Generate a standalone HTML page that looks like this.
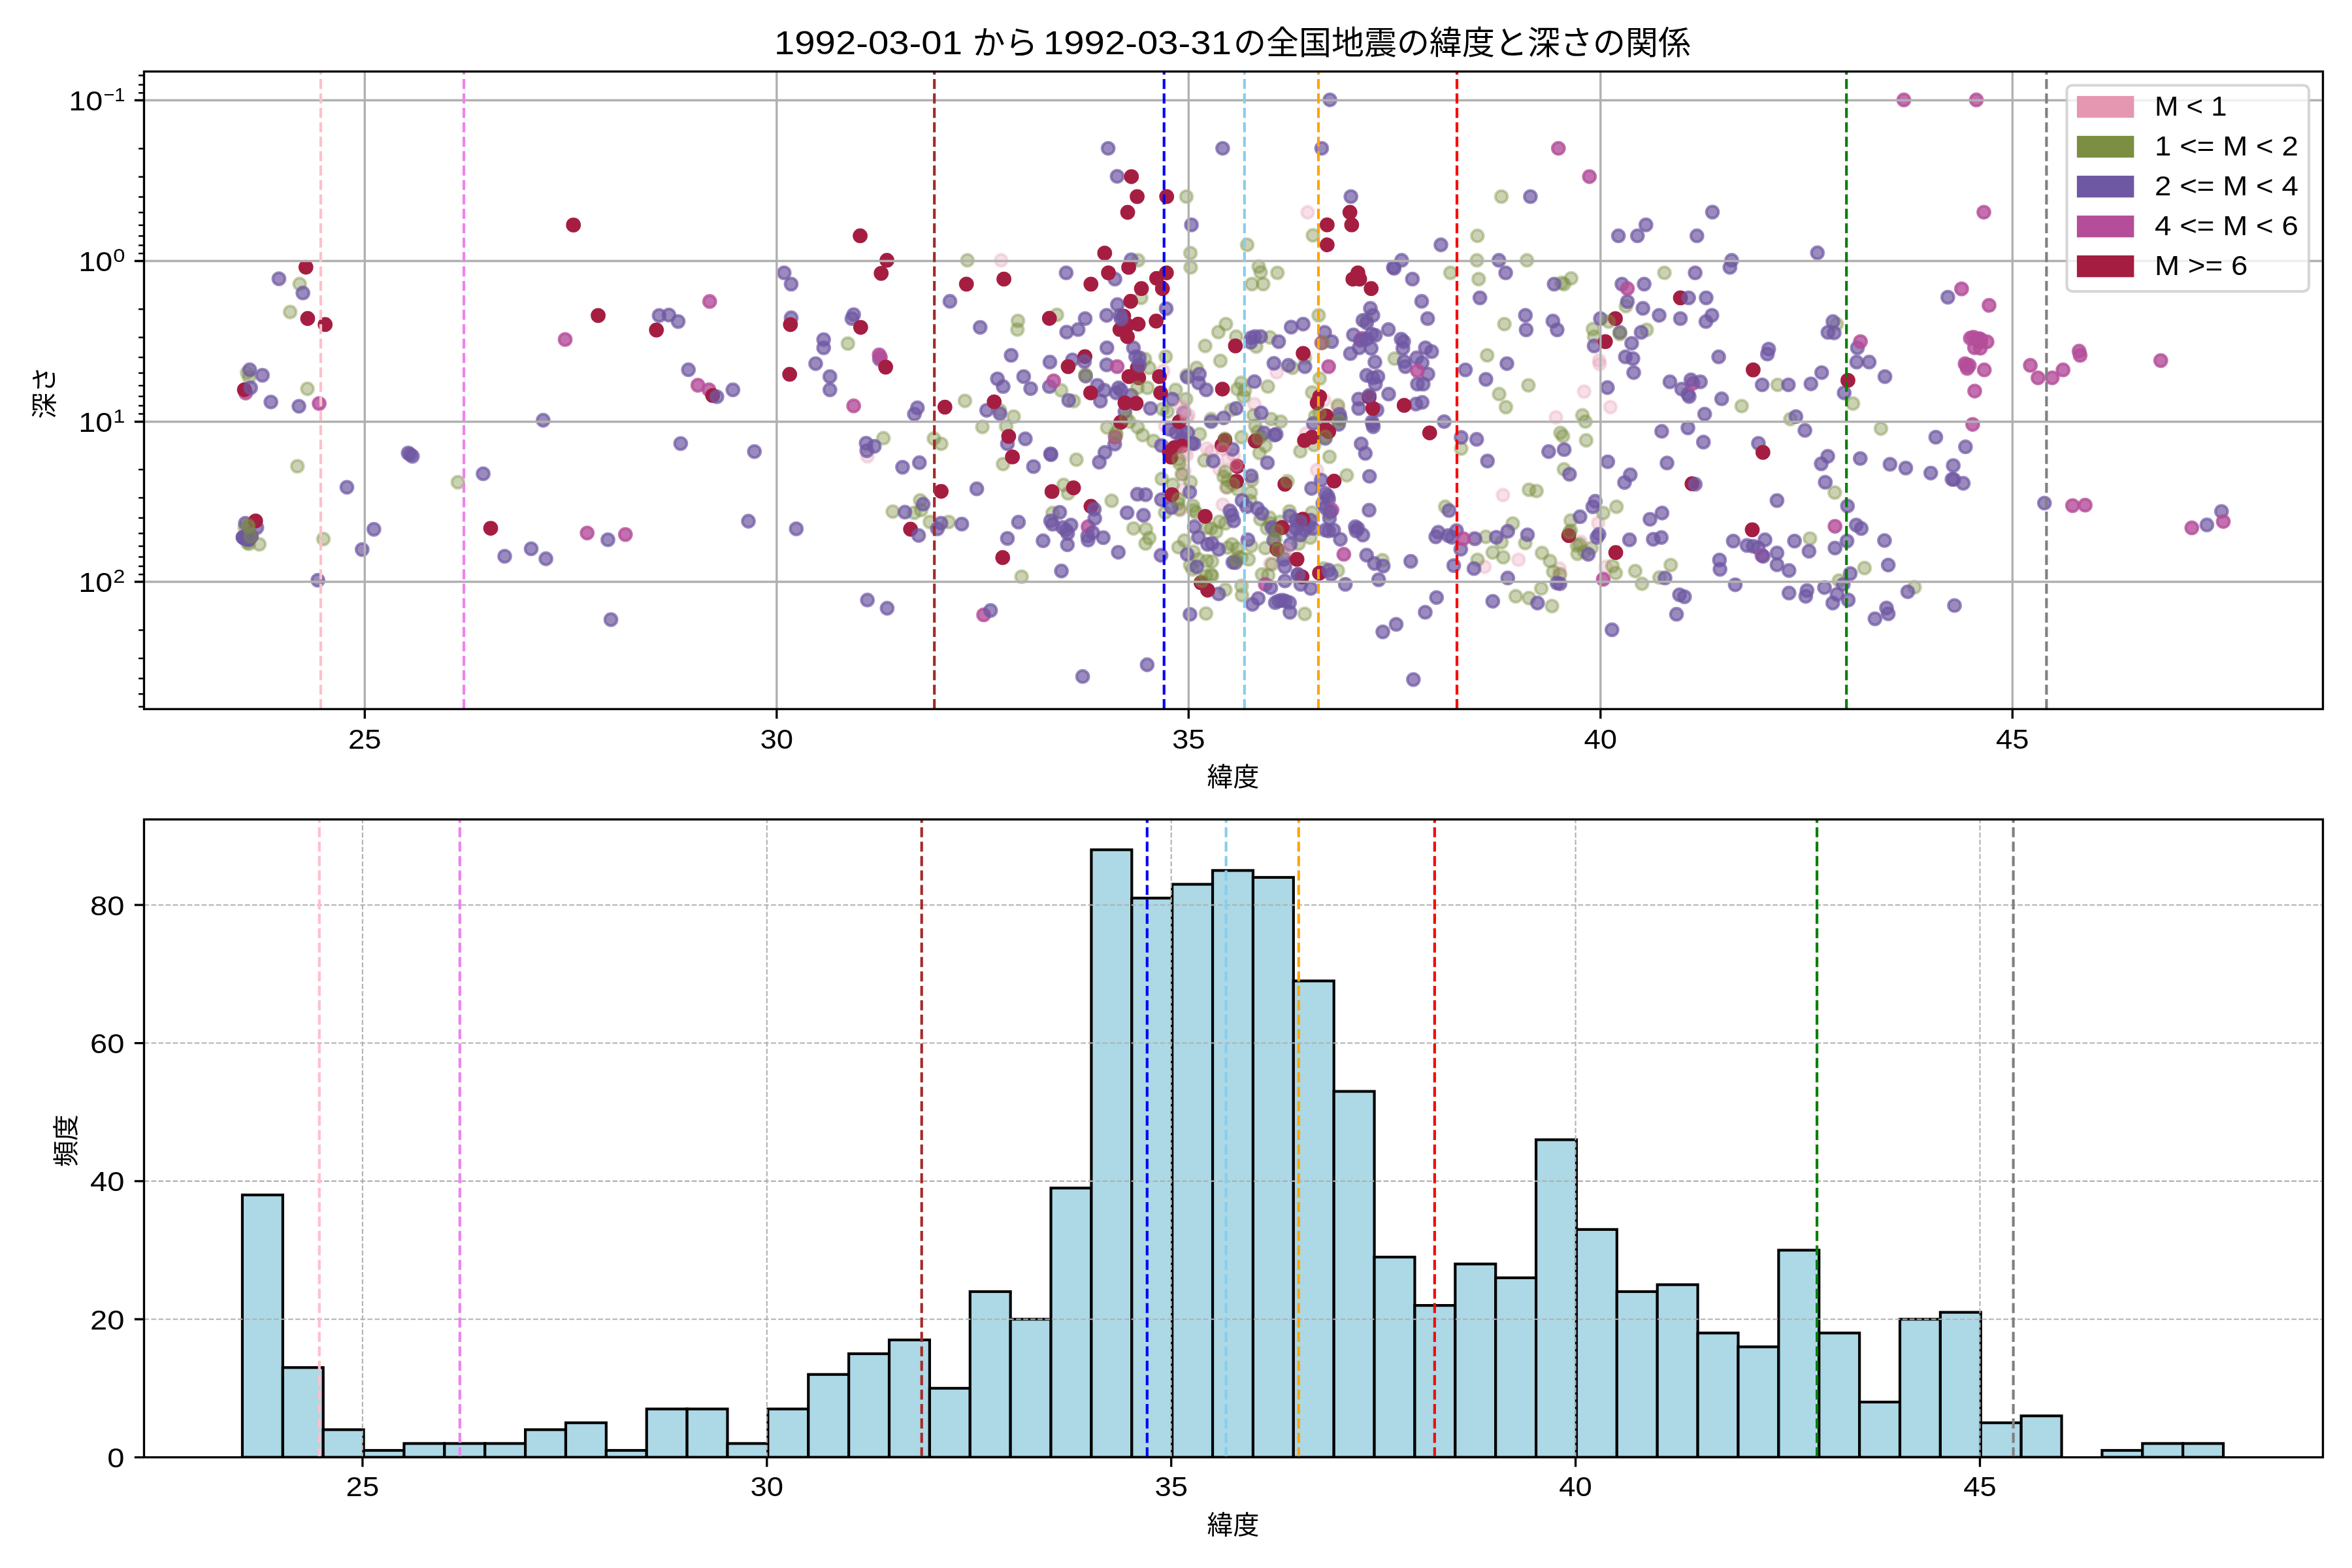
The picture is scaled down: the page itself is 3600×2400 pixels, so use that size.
<!DOCTYPE html>
<html lang="ja"><head><meta charset="utf-8"><title>緯度と深さの関係</title>
<style>html,body{margin:0;padding:0;background:#fff}svg{display:block;will-change:transform}text{font-family:"Liberation Sans", "Noto Sans CJK JP", sans-serif;fill:#000}.t{font-size:41.67px}.s{font-size:29.17px}.j{font-size:40px}.g{stroke:#b0b0b0;stroke-width:3.33;fill:none}.h{stroke:#b0b0b0;stroke-width:2.08;stroke-dasharray:7.7 3.33;fill:none}.v{stroke-width:4.17;stroke-dasharray:15.4 6.67;fill:none}.k{stroke:#000;stroke-width:3.33;fill:none}.m{stroke:#000;stroke-width:2.5;fill:none}.bar{fill:#add8e6;stroke:#000;stroke-width:4.17;stroke-linejoin:miter}circle{stroke-width:4.17}
.a circle{fill:#e597b2;stroke:#e597b2;fill-opacity:0.3;stroke-opacity:0.3}
.b circle{fill:#7b8e42;stroke:#7b8e42;fill-opacity:0.4;stroke-opacity:0.4}
.c circle{fill:#6f58a3;stroke:#6f58a3;fill-opacity:0.7;stroke-opacity:0.7}
.d circle{fill:#b44e9a;stroke:#b44e9a;fill-opacity:0.8;stroke-opacity:0.8}
.e circle{fill:#a51e42;stroke:#a51e42;fill-opacity:1.0;stroke-opacity:1.0}
</style></head><body>
<svg width="3600" height="2400" viewBox="0 0 3600 2400">
<rect width="3600" height="2400" fill="#fff"/>
<clipPath id="ct"><rect x="220.45" y="109.44" width="3335.05" height="975.92"/></clipPath>
<g clip-path="url(#ct)">
<g class="a"><circle cx="381.02" cy="804.41" r="9.3"/><circle cx="382.3" cy="806.96" r="9.3"/><circle cx="2001.54" cy="325" r="9.3"/><circle cx="1532.4" cy="398.47" r="9.3"/><circle cx="1780.37" cy="567.61" r="9.3"/><circle cx="1954.09" cy="569.9" r="9.3"/><circle cx="1920.04" cy="618.5" r="9.3"/><circle cx="1327.68" cy="698.44" r="9.3"/></g>
<g class="a"><circle cx="1812.76" cy="720.77" r="9.3"/><circle cx="1810.2" cy="725.87" r="9.3"/><circle cx="1811.48" cy="748.83" r="9.3"/><circle cx="1806.38" cy="780.71" r="9.3"/><circle cx="1783.42" cy="651.89" r="9.3"/><circle cx="1847.19" cy="686.33" r="9.3"/><circle cx="1888.27" cy="696.53" r="9.3"/><circle cx="1853.83" cy="691.43" r="9.3"/></g>
<g class="a"><circle cx="1866.58" cy="718.21" r="9.3"/><circle cx="1879.34" cy="701.63" r="9.3"/><circle cx="1876.79" cy="746.28" r="9.3"/><circle cx="1871.68" cy="772.42" r="9.3"/><circle cx="1999.23" cy="663.37" r="9.3"/><circle cx="2015.82" cy="719.49" r="9.3"/><circle cx="1944.39" cy="862.5" r="9.3"/><circle cx="2447.71" cy="551.54" r="9.3"/></g>
<g class="a"><circle cx="2448.48" cy="557.28" r="9.3"/><circle cx="2424.75" cy="599.37" r="9.3"/><circle cx="2026.79" cy="612.76" r="9.3"/><circle cx="2047.83" cy="623.48" r="9.3"/><circle cx="2464.93" cy="623.09" r="9.3"/><circle cx="2381.51" cy="638.78" r="9.3"/><circle cx="2300.51" cy="757.68" r="9.3"/><circle cx="2446.31" cy="800.54" r="9.3"/></g>
<g class="a"><circle cx="2254.98" cy="823.5" r="9.3"/><circle cx="2419.52" cy="829.24" r="9.3"/><circle cx="2324.24" cy="856.79" r="9.3"/><circle cx="2272.2" cy="867.5" r="9.3"/><circle cx="2386.99" cy="870.18" r="9.3"/><circle cx="2386.99" cy="880.13" r="9.3"/><circle cx="2457.79" cy="867.5" r="9.3"/></g>
<g class="b"><circle cx="458.68" cy="434.7" r="9.3"/><circle cx="444.14" cy="477.55" r="9.3"/><circle cx="378.32" cy="570.54" r="9.3"/><circle cx="381.38" cy="577.43" r="9.3"/><circle cx="470.54" cy="595.03" r="9.3"/><circle cx="455.23" cy="713.65" r="9.3"/><circle cx="700.9" cy="738.14" r="9.3"/><circle cx="495.03" cy="825.01" r="9.3"/></g>
<g class="b"><circle cx="374.64" cy="807.6" r="9.3"/><circle cx="396.96" cy="833.11" r="9.3"/><circle cx="381.02" cy="832.47" r="9.3"/><circle cx="378.47" cy="830.56" r="9.3"/><circle cx="1815.95" cy="300.9" r="9.3"/><circle cx="1908.94" cy="374.75" r="9.3"/><circle cx="1822.08" cy="387.38" r="9.3"/><circle cx="1480.74" cy="398.47" r="9.3"/></g>
<g class="b"><circle cx="1742.1" cy="398.47" r="9.3"/><circle cx="1822.46" cy="409.19" r="9.3"/><circle cx="1926.54" cy="408.04" r="9.3"/><circle cx="1929.6" cy="416.84" r="9.3"/><circle cx="1955.24" cy="417.61" r="9.3"/><circle cx="1916.21" cy="434.83" r="9.3"/><circle cx="1933.43" cy="434.83" r="9.3"/><circle cx="1746.69" cy="455.87" r="9.3"/></g>
<g class="b"><circle cx="1617.74" cy="481.89" r="9.3"/><circle cx="1558.04" cy="491.08" r="9.3"/><circle cx="1557.28" cy="504.47" r="9.3"/><circle cx="1876.41" cy="496.05" r="9.3"/><circle cx="1864.93" cy="508.3" r="9.3"/><circle cx="1892.1" cy="515.18" r="9.3"/><circle cx="1922.71" cy="530.49" r="9.3"/><circle cx="1943.76" cy="516.33" r="9.3"/></g>
<g class="b"><circle cx="1844.65" cy="529.34" r="9.3"/><circle cx="1297.83" cy="525.9" r="9.3"/><circle cx="1784.19" cy="545.8" r="9.3"/><circle cx="1752.43" cy="549.62" r="9.3"/><circle cx="1758.94" cy="563.02" r="9.3"/><circle cx="1867.99" cy="552.3" r="9.3"/><circle cx="1997.33" cy="547.71" r="9.3"/><circle cx="1978.2" cy="563.02" r="9.3"/></g>
<g class="b"><circle cx="1831.64" cy="563.02" r="9.3"/><circle cx="1816.34" cy="574.5" r="9.3"/><circle cx="1624.24" cy="597.46" r="9.3"/><circle cx="1899.76" cy="585.98" r="9.3"/><circle cx="1940.7" cy="591.72" r="9.3"/><circle cx="1894.02" cy="595.54" r="9.3"/><circle cx="1905.49" cy="597.46" r="9.3"/><circle cx="1799.5" cy="596.69" r="9.3"/></g>
<g class="b"><circle cx="1643.37" cy="613.91" r="9.3"/><circle cx="1815.57" cy="610.85" r="9.3"/><circle cx="1903.58" cy="607.02" r="9.3"/><circle cx="1476.92" cy="613.53" r="9.3"/><circle cx="1530.49" cy="628.07" r="9.3"/><circle cx="1551.54" cy="637.63" r="9.3"/><circle cx="1779.22" cy="626.15" r="9.3"/><circle cx="1786.87" cy="629.98" r="9.3"/></g>
<g class="b"><circle cx="1884.45" cy="627.3" r="9.3"/><circle cx="1918.89" cy="635.72" r="9.3"/><circle cx="1945.67" cy="641.46" r="9.3"/><circle cx="1960.22" cy="645.29" r="9.3"/><circle cx="1853.84" cy="641.46" r="9.3"/><circle cx="1503.7" cy="653.48" r="9.3"/><circle cx="1540.05" cy="652.53" r="9.3"/><circle cx="1535.27" cy="710.31" r="9.3"/></g>
<g class="b"><circle cx="1352.17" cy="670.7" r="9.3"/><circle cx="1429.46" cy="671.28" r="9.3"/><circle cx="1440.56" cy="679.31" r="9.3"/><circle cx="1408.42" cy="765.79" r="9.3"/><circle cx="1409.95" cy="780.71" r="9.3"/><circle cx="1399.42" cy="784.92" r="9.3"/><circle cx="1366.52" cy="783.01" r="9.3"/><circle cx="1423.34" cy="798.89" r="9.3"/></g>
<g class="b"><circle cx="1452.04" cy="798.89" r="9.3"/><circle cx="1694.77" cy="654.44" r="9.3"/><circle cx="1708.16" cy="662.09" r="9.3"/><circle cx="1728.57" cy="645.51" r="9.3"/><circle cx="1741.33" cy="653.8" r="9.3"/><circle cx="1748.98" cy="665.92" r="9.3"/><circle cx="1765.56" cy="674.85" r="9.3"/><circle cx="1805.1" cy="709.29" r="9.3"/></g>
<g class="b"><circle cx="1808.93" cy="725.87" r="9.3"/><circle cx="1778.32" cy="732.88" r="9.3"/><circle cx="1794.9" cy="741.81" r="9.3"/><circle cx="1822.32" cy="737.98" r="9.3"/><circle cx="1803.19" cy="770.51" r="9.3"/><circle cx="1783.42" cy="784.54" r="9.3"/><circle cx="1805.1" cy="779.44" r="9.3"/><circle cx="1826.15" cy="774.34" r="9.3"/></g>
<g class="b"><circle cx="1826.79" cy="780.71" r="9.3"/><circle cx="1830.61" cy="784.54" r="9.3"/><circle cx="1847.19" cy="807.5" r="9.3"/><circle cx="1836.35" cy="664.64" r="9.3"/><circle cx="1843.37" cy="704.82" r="9.3"/><circle cx="1647.58" cy="703.55" r="9.3"/><circle cx="1628.06" cy="742.19" r="9.3"/><circle cx="1634.82" cy="755.2" r="9.3"/></g>
<g class="b"><circle cx="1701.53" cy="766.43" r="9.3"/><circle cx="1611.22" cy="785.18" r="9.3"/><circle cx="1734.95" cy="808.78" r="9.3"/><circle cx="1754.08" cy="810.05" r="9.3"/><circle cx="1921.43" cy="651.89" r="9.3"/><circle cx="1925.26" cy="660.82" r="9.3"/><circle cx="1929.72" cy="667.83" r="9.3"/><circle cx="1936.73" cy="682.5" r="9.3"/></g>
<g class="b"><circle cx="1927.81" cy="693.34" r="9.3"/><circle cx="1900.38" cy="669.11" r="9.3"/><circle cx="1875.51" cy="722.04" r="9.3"/><circle cx="1872.96" cy="729.69" r="9.3"/><circle cx="1879.34" cy="734.8" r="9.3"/><circle cx="1878.06" cy="745.64" r="9.3"/><circle cx="1894.64" cy="748.83" r="9.3"/><circle cx="1916.33" cy="734.8" r="9.3"/></g>
<g class="b"><circle cx="1914.41" cy="753.93" r="9.3"/><circle cx="1913.78" cy="766.68" r="9.3"/><circle cx="1866.58" cy="798.57" r="9.3"/><circle cx="1875.51" cy="801.12" r="9.3"/><circle cx="1861.48" cy="813.88" r="9.3"/><circle cx="1853.83" cy="808.78" r="9.3"/><circle cx="1929.08" cy="794.74" r="9.3"/><circle cx="1943.11" cy="792.19" r="9.3"/></g>
<g class="b"><circle cx="1990.31" cy="690.79" r="9.3"/><circle cx="2011.35" cy="681.22" r="9.3"/><circle cx="1973.72" cy="782.63" r="9.3"/><circle cx="2008.16" cy="784.54" r="9.3"/><circle cx="1959.69" cy="798.57" r="9.3"/><circle cx="1944.39" cy="801.12" r="9.3"/><circle cx="1939.29" cy="808.78" r="9.3"/><circle cx="2013.27" cy="636.58" r="9.3"/></g>
<g class="b"><circle cx="2034.95" cy="699.08" r="9.3"/><circle cx="2061.35" cy="727.53" r="9.3"/><circle cx="2033.67" cy="785.82" r="9.3"/><circle cx="1759.18" cy="823.6" r="9.3"/><circle cx="1753.44" cy="831.89" r="9.3"/><circle cx="1563.65" cy="882.65" r="9.3"/><circle cx="1812.76" cy="827.42" r="9.3"/><circle cx="1803.83" cy="837.63" r="9.3"/></g>
<g class="b"><circle cx="1826.79" cy="844.64" r="9.3"/><circle cx="1834.44" cy="856.12" r="9.3"/><circle cx="1821.68" cy="865.05" r="9.3"/><circle cx="1825.51" cy="871.43" r="9.3"/><circle cx="1847.19" cy="858.67" r="9.3"/><circle cx="1845.92" cy="939.03" r="9.3"/><circle cx="1915.05" cy="835.71" r="9.3"/><circle cx="1885.71" cy="833.16" r="9.3"/></g>
<g class="b"><circle cx="1879.34" cy="838.27" r="9.3"/><circle cx="1893.37" cy="839.54" r="9.3"/><circle cx="1855.1" cy="859.31" r="9.3"/><circle cx="1895.92" cy="852.3" r="9.3"/><circle cx="1899.74" cy="853.57" r="9.3"/><circle cx="1911.22" cy="856.12" r="9.3"/><circle cx="1853.83" cy="879.08" r="9.3"/><circle cx="1855.1" cy="881.63" r="9.3"/></g>
<g class="b"><circle cx="1875.51" cy="902.68" r="9.3"/><circle cx="1900.38" cy="896.94" r="9.3"/><circle cx="1901.02" cy="910.97" r="9.3"/><circle cx="1936.73" cy="838.9" r="9.3"/><circle cx="1987.76" cy="831.89" r="9.3"/><circle cx="2005.61" cy="822.96" r="9.3"/><circle cx="1964.8" cy="851.02" r="9.3"/><circle cx="1946.94" cy="863.78" r="9.3"/></g>
<g class="b"><circle cx="1931.63" cy="879.08" r="9.3"/><circle cx="1941.2" cy="880.36" r="9.3"/><circle cx="2026.02" cy="870.15" r="9.3"/><circle cx="2047.7" cy="873.34" r="9.3"/><circle cx="2115.94" cy="857.4" r="9.3"/><circle cx="1997.07" cy="939.67" r="9.3"/><circle cx="2009.57" cy="360.21" r="9.3"/><circle cx="2298.09" cy="300.9" r="9.3"/></g>
<g class="b"><circle cx="2261.36" cy="360.97" r="9.3"/><circle cx="2260.59" cy="398.47" r="9.3"/><circle cx="2337.12" cy="398.47" r="9.3"/><circle cx="2220.03" cy="417.61" r="9.3"/><circle cx="2263.27" cy="427.17" r="9.3"/><circle cx="2394.14" cy="434.83" r="9.3"/><circle cx="2390.31" cy="432.91" r="9.3"/><circle cx="2404.85" cy="426.02" r="9.3"/></g>
<g class="b"><circle cx="2547.58" cy="417.61" r="9.3"/><circle cx="2488.65" cy="468.5" r="9.3"/><circle cx="2018.37" cy="482.66" r="9.3"/><circle cx="2302.68" cy="496.05" r="9.3"/><circle cx="2438.14" cy="503.7" r="9.3"/><circle cx="2440.06" cy="515.18" r="9.3"/><circle cx="2520.41" cy="504.85" r="9.3"/><circle cx="2811.23" cy="496.05" r="9.3"/></g>
<g class="b"><circle cx="2276.28" cy="543.88" r="9.3"/><circle cx="2134.7" cy="548.86" r="9.3"/><circle cx="2019.9" cy="579.47" r="9.3"/><circle cx="2720.93" cy="589.04" r="9.3"/><circle cx="2339.42" cy="589.8" r="9.3"/><circle cx="2294.65" cy="603.2" r="9.3"/><circle cx="2091.84" cy="489.16" r="9.3"/><circle cx="2008.42" cy="600.52" r="9.3"/></g>
<g class="b"><circle cx="2836.11" cy="617.74" r="9.3"/><circle cx="2665.82" cy="621.56" r="9.3"/><circle cx="2047.83" cy="620.41" r="9.3"/><circle cx="2304.98" cy="623.09" r="9.3"/><circle cx="2422.07" cy="635.72" r="9.3"/><circle cx="2740.44" cy="641.46" r="9.3"/><circle cx="2426.66" cy="645.29" r="9.3"/><circle cx="2236.48" cy="686.61" r="9.3"/></g>
<g class="b"><circle cx="2388.4" cy="662.51" r="9.3"/><circle cx="2392.22" cy="667.48" r="9.3"/><circle cx="2427.81" cy="673.99" r="9.3"/><circle cx="2878.97" cy="656" r="9.3"/><circle cx="2393.88" cy="718.27" r="9.3"/><circle cx="2808.3" cy="753.85" r="9.3"/><circle cx="2340.31" cy="749.64" r="9.3"/><circle cx="2351.79" cy="751.56" r="9.3"/></g>
<g class="b"><circle cx="2212.12" cy="775.66" r="9.3"/><circle cx="2474.24" cy="775.66" r="9.3"/><circle cx="2453.96" cy="785.23" r="9.3"/><circle cx="2404.21" cy="796.71" r="9.3"/><circle cx="2315.44" cy="801.3" r="9.3"/><circle cx="2274.11" cy="821.58" r="9.3"/><circle cx="2298.22" cy="830" r="9.3"/><circle cx="2334.57" cy="831.15" r="9.3"/></g>
<g class="b"><circle cx="2404.21" cy="812.02" r="9.3"/><circle cx="2417.61" cy="833.06" r="9.3"/><circle cx="2413.78" cy="834.98" r="9.3"/><circle cx="2435.97" cy="838.8" r="9.3"/><circle cx="2425.26" cy="844.54" r="9.3"/><circle cx="2414.54" cy="847.6" r="9.3"/><circle cx="2770.42" cy="824.26" r="9.3"/><circle cx="2261.48" cy="856.79" r="9.3"/></g>
<g class="b"><circle cx="2284.82" cy="845.69" r="9.3"/><circle cx="2300.9" cy="852.96" r="9.3"/><circle cx="2360.21" cy="846.46" r="9.3"/><circle cx="2372.45" cy="858.7" r="9.3"/><circle cx="2377.43" cy="875.16" r="9.3"/><circle cx="2387.76" cy="878.98" r="9.3"/><circle cx="2359.06" cy="900.79" r="9.3"/><circle cx="2320.03" cy="912.66" r="9.3"/></g>
<g class="b"><circle cx="2340.31" cy="915.33" r="9.3"/><circle cx="2375.51" cy="927.58" r="9.3"/><circle cx="2468.12" cy="866.35" r="9.3"/><circle cx="2473.09" cy="877.07" r="9.3"/><circle cx="2502.94" cy="874.01" r="9.3"/><circle cx="2513.27" cy="893.52" r="9.3"/><circle cx="2557.28" cy="864.82" r="9.3"/><circle cx="2540.06" cy="883.96" r="9.3"/></g>
<g class="b"><circle cx="2853.84" cy="869.42" r="9.3"/><circle cx="2814.81" cy="888.55" r="9.3"/><circle cx="2930.37" cy="898.88" r="9.3"/></g>
<g class="c"><circle cx="426.92" cy="426.66" r="9.3"/><circle cx="463.65" cy="448.47" r="9.3"/><circle cx="1008.94" cy="482.91" r="9.3"/><circle cx="1023.86" cy="482.15" r="9.3"/><circle cx="1038.02" cy="492.09" r="9.3"/><circle cx="1053.71" cy="565.95" r="9.3"/><circle cx="382.15" cy="565.95" r="9.3"/><circle cx="401.66" cy="574.37" r="9.3"/></g>
<g class="c"><circle cx="414.67" cy="615.31" r="9.3"/><circle cx="457.53" cy="621.82" r="9.3"/><circle cx="831.39" cy="643.24" r="9.3"/><circle cx="1041.85" cy="678.83" r="9.3"/><circle cx="624.75" cy="693.37" r="9.3"/><circle cx="627.81" cy="695.67" r="9.3"/><circle cx="631.26" cy="698.35" r="9.3"/><circle cx="739.55" cy="725.13" r="9.3"/></g>
<g class="c"><circle cx="531" cy="745.8" r="9.3"/><circle cx="572.33" cy="810.08" r="9.3"/><circle cx="930.49" cy="826.15" r="9.3"/><circle cx="554.34" cy="841.08" r="9.3"/><circle cx="813.02" cy="839.93" r="9.3"/><circle cx="772.46" cy="851.41" r="9.3"/><circle cx="835.59" cy="855.24" r="9.3"/><circle cx="486.61" cy="888.15" r="9.3"/></g>
<g class="c"><circle cx="375.6" cy="800.91" r="9.3"/><circle cx="393.14" cy="807.6" r="9.3"/><circle cx="371.77" cy="822.27" r="9.3"/><circle cx="372.41" cy="822.91" r="9.3"/><circle cx="372.73" cy="822.27" r="9.3"/><circle cx="374.64" cy="823.55" r="9.3"/><circle cx="376.56" cy="824.18" r="9.3"/><circle cx="378.47" cy="825.46" r="9.3"/></g>
<g class="c"><circle cx="380.38" cy="826.1" r="9.3"/><circle cx="381.02" cy="824.82" r="9.3"/><circle cx="382.3" cy="822.91" r="9.3"/><circle cx="384.21" cy="821.63" r="9.3"/><circle cx="384.85" cy="820.36" r="9.3"/><circle cx="374.64" cy="821.63" r="9.3"/><circle cx="935.09" cy="948.39" r="9.3"/><circle cx="1696.18" cy="227.04" r="9.3"/></g>
<g class="c"><circle cx="1871.44" cy="227.04" r="9.3"/><circle cx="1709.96" cy="269.9" r="9.3"/><circle cx="1823.61" cy="344.14" r="9.3"/><circle cx="1731.39" cy="397.71" r="9.3"/><circle cx="1200.26" cy="417.61" r="9.3"/><circle cx="1631.89" cy="417.61" r="9.3"/><circle cx="1706.51" cy="427.17" r="9.3"/><circle cx="1210.97" cy="434.83" r="9.3"/></g>
<g class="c"><circle cx="1453.96" cy="461.23" r="9.3"/><circle cx="1710.34" cy="466.2" r="9.3"/><circle cx="1784.96" cy="472.33" r="9.3"/><circle cx="1693.89" cy="482.66" r="9.3"/><circle cx="1660.98" cy="487.63" r="9.3"/><circle cx="1306.64" cy="481.51" r="9.3"/><circle cx="1303.96" cy="487.63" r="9.3"/><circle cx="1210.97" cy="486.48" r="9.3"/></g>
<g class="c"><circle cx="1500.26" cy="501.03" r="9.3"/><circle cx="1650.26" cy="504.47" r="9.3"/><circle cx="1632.66" cy="508.3" r="9.3"/><circle cx="1976.29" cy="500.64" r="9.3"/><circle cx="1994.65" cy="496.05" r="9.3"/><circle cx="1915.06" cy="517.1" r="9.3"/><circle cx="1920.8" cy="515.18" r="9.3"/><circle cx="1929.6" cy="515.18" r="9.3"/></g>
<g class="c"><circle cx="1914.3" cy="523.98" r="9.3"/><circle cx="1957.15" cy="522.84" r="9.3"/><circle cx="1260.72" cy="519.78" r="9.3"/><circle cx="1260.72" cy="532.4" r="9.3"/><circle cx="1694.27" cy="532.4" r="9.3"/><circle cx="1734.83" cy="532.4" r="9.3"/><circle cx="1346.05" cy="549.62" r="9.3"/><circle cx="1547.71" cy="543.88" r="9.3"/></g>
<g class="c"><circle cx="1607.02" cy="554.21" r="9.3"/><circle cx="1641.46" cy="550.77" r="9.3"/><circle cx="1248.47" cy="556.51" r="9.3"/><circle cx="1693.89" cy="558.42" r="9.3"/><circle cx="1949.88" cy="556.13" r="9.3"/><circle cx="1972.08" cy="559.19" r="9.3"/><circle cx="1997.33" cy="561.1" r="9.3"/><circle cx="1270.28" cy="576.41" r="9.3"/></g>
<g class="c"><circle cx="1835.85" cy="572.58" r="9.3"/><circle cx="1817.48" cy="577.17" r="9.3"/><circle cx="1661.74" cy="575.64" r="9.3"/><circle cx="1526.66" cy="579.85" r="9.3"/><circle cx="1566.84" cy="576.41" r="9.3"/><circle cx="1606.26" cy="591.72" r="9.3"/><circle cx="1535.46" cy="591.72" r="9.3"/><circle cx="1577.56" cy="594.78" r="9.3"/></g>
<g class="c"><circle cx="1679.73" cy="589.8" r="9.3"/><circle cx="1690.44" cy="597.46" r="9.3"/><circle cx="1121.81" cy="596.69" r="9.3"/><circle cx="1270.28" cy="596.69" r="9.3"/><circle cx="1834.7" cy="585.98" r="9.3"/><circle cx="1846.18" cy="596.69" r="9.3"/><circle cx="1920.04" cy="584.06" r="9.3"/><circle cx="1712.25" cy="593.63" r="9.3"/></g>
<g class="c"><circle cx="1716.08" cy="597.46" r="9.3"/><circle cx="1708.43" cy="601.28" r="9.3"/><circle cx="1731.39" cy="605.11" r="9.3"/><circle cx="1635.72" cy="612.76" r="9.3"/><circle cx="1684.32" cy="613.91" r="9.3"/><circle cx="1794.52" cy="610.85" r="9.3"/><circle cx="1404.21" cy="624.24" r="9.3"/><circle cx="1399.62" cy="633.81" r="9.3"/></g>
<g class="c"><circle cx="1510.21" cy="628.07" r="9.3"/><circle cx="1530.49" cy="633.04" r="9.3"/><circle cx="1760.85" cy="625.01" r="9.3"/><circle cx="1811.74" cy="631.89" r="9.3"/><circle cx="1892.1" cy="625.01" r="9.3"/><circle cx="1930.37" cy="631.89" r="9.3"/><circle cx="1872.97" cy="639.55" r="9.3"/><circle cx="1853.84" cy="645.29" r="9.3"/></g>
<g class="c"><circle cx="1721.82" cy="629.98" r="9.3"/><circle cx="1541.96" cy="679.31" r="9.3"/><circle cx="1325.76" cy="678.35" r="9.3"/><circle cx="1338.2" cy="683.14" r="9.3"/><circle cx="1326.72" cy="689.83" r="9.3"/><circle cx="1154.72" cy="691.17" r="9.3"/><circle cx="1407.27" cy="708.2" r="9.3"/><circle cx="1381.44" cy="715.09" r="9.3"/></g>
<g class="c"><circle cx="1495.09" cy="748.19" r="9.3"/><circle cx="1413.01" cy="771.72" r="9.3"/><circle cx="1385.07" cy="783.97" r="9.3"/><circle cx="1440.18" cy="800.8" r="9.3"/><circle cx="1434.82" cy="809.41" r="9.3"/><circle cx="1472.13" cy="802.14" r="9.3"/><circle cx="1145.54" cy="797.74" r="9.3"/><circle cx="1218.81" cy="809.41" r="9.3"/></g>
<g class="c"><circle cx="1541.96" cy="824.14" r="9.3"/><circle cx="1327.68" cy="918.47" r="9.3"/><circle cx="1357.91" cy="930.99" r="9.3"/><circle cx="1706.25" cy="679.69" r="9.3"/><circle cx="1691.2" cy="692.45" r="9.3"/><circle cx="1682.65" cy="707.37" r="9.3"/><circle cx="1777.68" cy="681.86" r="9.3"/><circle cx="1821.05" cy="753.29" r="9.3"/></g>
<g class="c"><circle cx="1777.68" cy="764.77" r="9.3"/><circle cx="1792.98" cy="776.89" r="9.3"/><circle cx="1828.06" cy="806.22" r="9.3"/><circle cx="1789.8" cy="656.99" r="9.3"/><circle cx="1800" cy="662.09" r="9.3"/><circle cx="1810.2" cy="660.82" r="9.3"/><circle cx="1817.86" cy="662.09" r="9.3"/><circle cx="1808.93" cy="671.02" r="9.3"/></g>
<g class="c"><circle cx="1824.23" cy="678.67" r="9.3"/><circle cx="1827.42" cy="679.31" r="9.3"/><circle cx="1569.39" cy="671.66" r="9.3"/><circle cx="1608.04" cy="694.62" r="9.3"/><circle cx="1608.67" cy="695.89" r="9.3"/><circle cx="1581.89" cy="714.13" r="9.3"/><circle cx="1740.94" cy="756.48" r="9.3"/><circle cx="1753.44" cy="757.12" r="9.3"/></g>
<g class="c"><circle cx="1725.13" cy="784.8" r="9.3"/><circle cx="1750.26" cy="788.75" r="9.3"/><circle cx="1622.07" cy="784.16" r="9.3"/><circle cx="1558.93" cy="799.21" r="9.3"/><circle cx="1608.04" cy="797.3" r="9.3"/><circle cx="1611.22" cy="802.4" r="9.3"/><circle cx="1626.53" cy="807.5" r="9.3"/><circle cx="1631.63" cy="811.33" r="9.3"/></g>
<g class="c"><circle cx="1639.29" cy="803.67" r="9.3"/><circle cx="1634.18" cy="816.43" r="9.3"/><circle cx="1934.82" cy="662.73" r="9.3"/><circle cx="1950.77" cy="665.92" r="9.3"/><circle cx="1953.32" cy="664.64" r="9.3"/><circle cx="1886.35" cy="687.6" r="9.3"/><circle cx="1857.02" cy="705.71" r="9.3"/><circle cx="1915.05" cy="728.42" r="9.3"/></g>
<g class="c"><circle cx="1901.02" cy="766.05" r="9.3"/><circle cx="1908.04" cy="775.61" r="9.3"/><circle cx="1882.53" cy="781.99" r="9.3"/><circle cx="1885.71" cy="788.37" r="9.3"/><circle cx="1888.27" cy="797.3" r="9.3"/><circle cx="1924.62" cy="778.16" r="9.3"/><circle cx="1931.63" cy="785.82" r="9.3"/><circle cx="1939.92" cy="708.27" r="9.3"/></g>
<g class="c"><circle cx="1974.36" cy="789.64" r="9.3"/><circle cx="1983.93" cy="796.02" r="9.3"/><circle cx="2005.61" cy="796.02" r="9.3"/><circle cx="2003.06" cy="804.95" r="9.3"/><circle cx="2009.44" cy="808.78" r="9.3"/><circle cx="1996.68" cy="811.33" r="9.3"/><circle cx="1983.93" cy="808.78" r="9.3"/><circle cx="1977.55" cy="813.88" r="9.3"/></g>
<g class="c"><circle cx="1946.94" cy="807.5" r="9.3"/><circle cx="1952.04" cy="811.33" r="9.3"/><circle cx="1990.31" cy="818.98" r="9.3"/><circle cx="2050.26" cy="634.03" r="9.3"/><circle cx="2051.53" cy="640.41" r="9.3"/><circle cx="2048.98" cy="649.34" r="9.3"/><circle cx="2010.08" cy="648.06" r="9.3"/><circle cx="2028.57" cy="671.02" r="9.3"/></g>
<g class="c"><circle cx="2079.59" cy="625.1" r="9.3"/><circle cx="2107.65" cy="627.65" r="9.3"/><circle cx="2100" cy="645.51" r="9.3"/><circle cx="2101.28" cy="649.34" r="9.3"/><circle cx="2101.91" cy="653.16" r="9.3"/><circle cx="2083.42" cy="679.31" r="9.3"/><circle cx="2089.8" cy="693.98" r="9.3"/><circle cx="2022.19" cy="734.8" r="9.3"/></g>
<g class="c"><circle cx="2096.17" cy="729.06" r="9.3"/><circle cx="2007.53" cy="747.55" r="9.3"/><circle cx="2028.57" cy="755.2" r="9.3"/><circle cx="2032.4" cy="759.03" r="9.3"/><circle cx="2033.67" cy="764.13" r="9.3"/><circle cx="2024.74" cy="770.51" r="9.3"/><circle cx="2028.57" cy="776.89" r="9.3"/><circle cx="2034.95" cy="793.47" r="9.3"/></g>
<g class="c"><circle cx="2095.54" cy="780.97" r="9.3"/><circle cx="2028.57" cy="811.33" r="9.3"/><circle cx="2033.67" cy="812.6" r="9.3"/><circle cx="2041.33" cy="811.33" r="9.3"/><circle cx="2074.49" cy="806.22" r="9.3"/><circle cx="2078.32" cy="808.78" r="9.3"/><circle cx="2075.77" cy="812.6" r="9.3"/><circle cx="2085.97" cy="818.98" r="9.3"/></g>
<g class="c"><circle cx="1596.56" cy="827.68" r="9.3"/><circle cx="1688.65" cy="822.96" r="9.3"/><circle cx="1664.8" cy="820.41" r="9.3"/><circle cx="1665.43" cy="826.79" r="9.3"/><circle cx="1834.44" cy="822.32" r="9.3"/><circle cx="1633.8" cy="833.8" r="9.3"/><circle cx="1711.73" cy="845.28" r="9.3"/><circle cx="1777.04" cy="850" r="9.3"/></g>
<g class="c"><circle cx="1624.62" cy="873.98" r="9.3"/><circle cx="1817.22" cy="848.47" r="9.3"/><circle cx="1831.89" cy="867.6" r="9.3"/><circle cx="1848.47" cy="833.16" r="9.3"/><circle cx="1821.43" cy="940.31" r="9.3"/><circle cx="1909.95" cy="826.15" r="9.3"/><circle cx="2051.53" cy="825.51" r="9.3"/><circle cx="1855.1" cy="831.89" r="9.3"/></g>
<g class="c"><circle cx="1865.31" cy="840.82" r="9.3"/><circle cx="1886.99" cy="860.59" r="9.3"/><circle cx="1890.82" cy="861.22" r="9.3"/><circle cx="1865.31" cy="909.06" r="9.3"/><circle cx="1949.49" cy="826.79" r="9.3"/><circle cx="1975" cy="833.16" r="9.3"/><circle cx="1964.8" cy="856.12" r="9.3"/><circle cx="1966.71" cy="867.6" r="9.3"/></g>
<g class="c"><circle cx="1966.71" cy="889.29" r="9.3"/><circle cx="1986.48" cy="879.08" r="9.3"/><circle cx="1990.94" cy="894.39" r="9.3"/><circle cx="2006.25" cy="900.77" r="9.3"/><circle cx="2059.18" cy="894.39" r="9.3"/><circle cx="2091.71" cy="849.74" r="9.3"/><circle cx="2103.83" cy="862.5" r="9.3"/><circle cx="2117.22" cy="866.33" r="9.3"/></g>
<g class="c"><circle cx="2110.2" cy="887.37" r="9.3"/><circle cx="1925.89" cy="916.07" r="9.3"/><circle cx="1916.96" cy="925" r="9.3"/><circle cx="1952.04" cy="922.45" r="9.3"/><circle cx="1957.14" cy="919.9" r="9.3"/><circle cx="1962.24" cy="918.62" r="9.3"/><circle cx="1967.35" cy="919.9" r="9.3"/><circle cx="1973.72" cy="922.45" r="9.3"/></g>
<g class="c"><circle cx="1974.36" cy="937.12" r="9.3"/><circle cx="2136.99" cy="955.61" r="9.3"/><circle cx="2116.58" cy="967.09" r="9.3"/><circle cx="1657.14" cy="1035.49" r="9.3"/><circle cx="1755.87" cy="1017.5" r="9.3"/><circle cx="2163.4" cy="1040.08" r="9.3"/><circle cx="2035.59" cy="152.81" r="9.3"/><circle cx="2022.96" cy="227.04" r="9.3"/></g>
<g class="c"><circle cx="2067.73" cy="300.9" r="9.3"/><circle cx="2342.48" cy="300.9" r="9.3"/><circle cx="2621.05" cy="324.62" r="9.3"/><circle cx="2519.27" cy="344.14" r="9.3"/><circle cx="2477.17" cy="360.97" r="9.3"/><circle cx="2506.26" cy="360.97" r="9.3"/><circle cx="2597.33" cy="360.97" r="9.3"/><circle cx="2205.49" cy="374.75" r="9.3"/></g>
<g class="c"><circle cx="2781.77" cy="386.99" r="9.3"/><circle cx="2145.41" cy="398.47" r="9.3"/><circle cx="2650.52" cy="398.47" r="9.3"/><circle cx="2294.26" cy="398.47" r="9.3"/><circle cx="2132.78" cy="409.19" r="9.3"/><circle cx="2133.93" cy="410.72" r="9.3"/><circle cx="2647.84" cy="409.19" r="9.3"/><circle cx="2161.86" cy="427.17" r="9.3"/></g>
<g class="c"><circle cx="2304.6" cy="417.61" r="9.3"/><circle cx="2378.83" cy="434.83" r="9.3"/><circle cx="2594.65" cy="417.61" r="9.3"/><circle cx="2482.53" cy="434.83" r="9.3"/><circle cx="2516.59" cy="434.83" r="9.3"/><circle cx="2265.18" cy="455.87" r="9.3"/><circle cx="2176.02" cy="461.23" r="9.3"/><circle cx="2611.49" cy="455.87" r="9.3"/></g>
<g class="c"><circle cx="2490.95" cy="461.61" r="9.3"/><circle cx="2514.67" cy="471.94" r="9.3"/><circle cx="2097.58" cy="471.94" r="9.3"/><circle cx="2101.4" cy="482.66" r="9.3"/><circle cx="2086.1" cy="490.31" r="9.3"/><circle cx="2091.84" cy="494.14" r="9.3"/><circle cx="2185.21" cy="487.63" r="9.3"/><circle cx="2334.83" cy="482.66" r="9.3"/></g>
<g class="c"><circle cx="2376.92" cy="491.46" r="9.3"/><circle cx="2383.42" cy="504.85" r="9.3"/><circle cx="2335.97" cy="504.85" r="9.3"/><circle cx="2539.55" cy="482.66" r="9.3"/><circle cx="2572.07" cy="487.63" r="9.3"/><circle cx="2620.29" cy="482.66" r="9.3"/><circle cx="2611.1" cy="492.22" r="9.3"/><circle cx="2449.62" cy="487.63" r="9.3"/></g>
<g class="c"><circle cx="2479.47" cy="508.68" r="9.3"/><circle cx="2512" cy="508.68" r="9.3"/><circle cx="2805.49" cy="492.22" r="9.3"/><circle cx="2797.84" cy="508.68" r="9.3"/><circle cx="2807.41" cy="509.44" r="9.3"/><circle cx="2027.55" cy="508.68" r="9.3"/><circle cx="2038.27" cy="522.84" r="9.3"/><circle cx="2125.13" cy="504.47" r="9.3"/></g>
<g class="c"><circle cx="2071.56" cy="512.51" r="9.3"/><circle cx="2105.23" cy="513.27" r="9.3"/><circle cx="2080.36" cy="532.4" r="9.3"/><circle cx="2098.73" cy="533.17" r="9.3"/><circle cx="2144.64" cy="519.01" r="9.3"/><circle cx="2148.47" cy="522.84" r="9.3"/><circle cx="2147.32" cy="533.17" r="9.3"/><circle cx="2181.76" cy="532.4" r="9.3"/></g>
<g class="c"><circle cx="2191.33" cy="538.14" r="9.3"/><circle cx="2066.97" cy="541.2" r="9.3"/><circle cx="2440.06" cy="529.34" r="9.3"/><circle cx="2497.46" cy="525.52" r="9.3"/><circle cx="2843" cy="532.4" r="9.3"/><circle cx="2707.15" cy="534.32" r="9.3"/><circle cx="2705.24" cy="541.97" r="9.3"/><circle cx="2630.62" cy="546.18" r="9.3"/></g>
<g class="c"><circle cx="2306.51" cy="556.51" r="9.3"/><circle cx="2487.89" cy="546.18" r="9.3"/><circle cx="2499.37" cy="548.86" r="9.3"/><circle cx="2841.85" cy="554.21" r="9.3"/><circle cx="2860.98" cy="554.21" r="9.3"/><circle cx="2104.47" cy="554.21" r="9.3"/><circle cx="2149.24" cy="553.45" r="9.3"/><circle cx="2151.15" cy="561.1" r="9.3"/></g>
<g class="c"><circle cx="2168.37" cy="547.71" r="9.3"/><circle cx="2176.79" cy="555.36" r="9.3"/><circle cx="2185.59" cy="572.58" r="9.3"/><circle cx="2242.99" cy="566.08" r="9.3"/><circle cx="2500.52" cy="570.29" r="9.3"/><circle cx="2788.28" cy="570.29" r="9.3"/><circle cx="2885.09" cy="576.41" r="9.3"/><circle cx="2274.37" cy="580.62" r="9.3"/></g>
<g class="c"><circle cx="2091.84" cy="574.5" r="9.3"/><circle cx="2101.4" cy="578.32" r="9.3"/><circle cx="2109.06" cy="576.41" r="9.3"/><circle cx="2105.23" cy="587.89" r="9.3"/><circle cx="2169.52" cy="587.89" r="9.3"/><circle cx="2178.32" cy="587.89" r="9.3"/><circle cx="2556" cy="584.44" r="9.3"/><circle cx="2697.2" cy="589.04" r="9.3"/></g>
<g class="c"><circle cx="2737.38" cy="589.04" r="9.3"/><circle cx="2771.82" cy="587.51" r="9.3"/><circle cx="2460.34" cy="593.25" r="9.3"/><circle cx="2573.99" cy="595.54" r="9.3"/><circle cx="2583.55" cy="603.2" r="9.3"/><circle cx="2585.47" cy="607.02" r="9.3"/><circle cx="2822.71" cy="601.28" r="9.3"/><circle cx="2125.51" cy="603.2" r="9.3"/></g>
<g class="c"><circle cx="2079.59" cy="610.85" r="9.3"/><circle cx="2635.21" cy="610.47" r="9.3"/><circle cx="2167.22" cy="618.5" r="9.3"/><circle cx="2176.79" cy="615.82" r="9.3"/><circle cx="2609.19" cy="633.81" r="9.3"/><circle cx="2748.86" cy="637.63" r="9.3"/><circle cx="2210.46" cy="645.29" r="9.3"/><circle cx="2236.48" cy="669.4" r="9.3"/></g>
<g class="c"><circle cx="2260.21" cy="672.46" r="9.3"/><circle cx="2394.14" cy="688.15" r="9.3"/><circle cx="2370.41" cy="691.21" r="9.3"/><circle cx="2543.37" cy="660.21" r="9.3"/><circle cx="2583.55" cy="654.85" r="9.3"/><circle cx="2607.28" cy="676.67" r="9.3"/><circle cx="2762.64" cy="658.68" r="9.3"/><circle cx="2691.46" cy="678.58" r="9.3"/></g>
<g class="c"><circle cx="2276.79" cy="705.64" r="9.3"/><circle cx="2460.85" cy="706.79" r="9.3"/><circle cx="2551.54" cy="708.7" r="9.3"/><circle cx="2797.59" cy="698.37" r="9.3"/><circle cx="2847.33" cy="701.81" r="9.3"/><circle cx="2787.64" cy="709.85" r="9.3"/><circle cx="2892.87" cy="710.61" r="9.3"/><circle cx="2916.97" cy="716.35" r="9.3"/></g>
<g class="c"><circle cx="2955.24" cy="724.01" r="9.3"/><circle cx="2989.68" cy="712.53" r="9.3"/><circle cx="2987.77" cy="733.57" r="9.3"/><circle cx="2402.3" cy="725.92" r="9.3"/><circle cx="2495.29" cy="726.68" r="9.3"/><circle cx="2486.48" cy="738.55" r="9.3"/><circle cx="2793.76" cy="738.16" r="9.3"/><circle cx="2719.91" cy="766.1" r="9.3"/></g>
<g class="c"><circle cx="2827.82" cy="774.52" r="9.3"/><circle cx="2217.86" cy="781.4" r="9.3"/><circle cx="2441.71" cy="767.25" r="9.3"/><circle cx="2437.89" cy="775.66" r="9.3"/><circle cx="2418.37" cy="790.97" r="9.3"/><circle cx="2543.88" cy="785.23" r="9.3"/><circle cx="2525.52" cy="794.8" r="9.3"/><circle cx="2841.21" cy="803.6" r="9.3"/></g>
<g class="c"><circle cx="2848.86" cy="808.96" r="9.3"/><circle cx="2307.78" cy="813.16" r="9.3"/><circle cx="2201.4" cy="814.7" r="9.3"/><circle cx="2197.58" cy="821.58" r="9.3"/><circle cx="2216.71" cy="819.67" r="9.3"/><circle cx="2222.45" cy="822.35" r="9.3"/><circle cx="2229.34" cy="812.02" r="9.3"/><circle cx="2257.66" cy="824.64" r="9.3"/></g>
<g class="c"><circle cx="2290.18" cy="822.35" r="9.3"/><circle cx="2338.01" cy="818.52" r="9.3"/><circle cx="2447.45" cy="817.76" r="9.3"/><circle cx="2444.39" cy="822.35" r="9.3"/><circle cx="2431" cy="848.37" r="9.3"/><circle cx="2701.54" cy="826.18" r="9.3"/><circle cx="2746.69" cy="828.09" r="9.3"/><circle cx="2652.94" cy="828.09" r="9.3"/></g>
<g class="c"><circle cx="2673.99" cy="834.98" r="9.3"/><circle cx="2683.55" cy="836.12" r="9.3"/><circle cx="2691.21" cy="838.8" r="9.3"/><circle cx="2719.91" cy="846.46" r="9.3"/><circle cx="2768.89" cy="843.78" r="9.3"/><circle cx="2808.68" cy="838.8" r="9.3"/><circle cx="2827.05" cy="828.09" r="9.3"/><circle cx="2884.45" cy="827.32" r="9.3"/></g>
<g class="c"><circle cx="2494.14" cy="826.18" r="9.3"/><circle cx="2530.49" cy="825.41" r="9.3"/><circle cx="2542.74" cy="822.73" r="9.3"/><circle cx="2235.84" cy="840.72" r="9.3"/><circle cx="2159.31" cy="859.08" r="9.3"/><circle cx="2225.13" cy="865.59" r="9.3"/><circle cx="2256.12" cy="870.18" r="9.3"/><circle cx="2307.78" cy="884.72" r="9.3"/></g>
<g class="c"><circle cx="2383.17" cy="892.38" r="9.3"/><circle cx="2387.76" cy="893.52" r="9.3"/><circle cx="2284.82" cy="920.31" r="9.3"/><circle cx="2353.32" cy="922.99" r="9.3"/><circle cx="2198.73" cy="914.57" r="9.3"/><circle cx="2181.51" cy="937.15" r="9.3"/><circle cx="2548.48" cy="884.72" r="9.3"/><circle cx="2631.89" cy="857.17" r="9.3"/></g>
<g class="c"><circle cx="2632.66" cy="871.33" r="9.3"/><circle cx="2656" cy="895.05" r="9.3"/><circle cx="2719.91" cy="864.44" r="9.3"/><circle cx="2738.27" cy="873.24" r="9.3"/><circle cx="2890.19" cy="864.82" r="9.3"/><circle cx="2832.02" cy="877.83" r="9.3"/><circle cx="2821.31" cy="894.29" r="9.3"/><circle cx="2792.61" cy="899.26" r="9.3"/></g>
<g class="c"><circle cx="2765.82" cy="903.85" r="9.3"/><circle cx="2763.91" cy="912.66" r="9.3"/><circle cx="2738.27" cy="907.68" r="9.3"/><circle cx="2811.74" cy="909.59" r="9.3"/><circle cx="2805.24" cy="922.99" r="9.3"/><circle cx="2828.96" cy="918.4" r="9.3"/><circle cx="2570.67" cy="910.36" r="9.3"/><circle cx="2578.32" cy="913.42" r="9.3"/></g>
<g class="c"><circle cx="2566.08" cy="940.21" r="9.3"/><circle cx="2467.35" cy="963.93" r="9.3"/><circle cx="2920.04" cy="905.77" r="9.3"/><circle cx="2991.59" cy="926.81" r="9.3"/><circle cx="2887.51" cy="930.64" r="9.3"/><circle cx="2890.19" cy="939.44" r="9.3"/><circle cx="2869.91" cy="947.1" r="9.3"/><circle cx="2981.38" cy="454.91" r="9.3"/></g>
<g class="c"><circle cx="2962.95" cy="669.16" r="9.3"/><circle cx="3008.4" cy="683.97" r="9.3"/><circle cx="3004.96" cy="739.75" r="9.3"/><circle cx="2990.5" cy="733.9" r="9.3"/><circle cx="3129.27" cy="770.06" r="9.3"/><circle cx="3400.28" cy="782.8" r="9.3"/><circle cx="3377.89" cy="803.46" r="9.3"/></g>
<g class="d"><circle cx="1086.24" cy="461.48" r="9.3"/><circle cx="865.06" cy="519.65" r="9.3"/><circle cx="376.02" cy="601.53" r="9.3"/><circle cx="488.52" cy="617.61" r="9.3"/><circle cx="1068.25" cy="589.67" r="9.3"/><circle cx="1085.09" cy="596.56" r="9.3"/><circle cx="898.73" cy="815.82" r="9.3"/><circle cx="957.28" cy="818.12" r="9.3"/></g>
<g class="d"><circle cx="1345.67" cy="543.12" r="9.3"/><circle cx="1347.58" cy="546.94" r="9.3"/><circle cx="1709.96" cy="561.1" r="9.3"/><circle cx="1612.76" cy="582.91" r="9.3"/><circle cx="1306.64" cy="621.18" r="9.3"/><circle cx="1505.61" cy="941.13" r="9.3"/><circle cx="1706.89" cy="669.11" r="9.3"/><circle cx="1665.43" cy="806.22" r="9.3"/></g>
<g class="d"><circle cx="2038.78" cy="780.71" r="9.3"/><circle cx="1936.73" cy="894.39" r="9.3"/><circle cx="2056.89" cy="848.47" r="9.3"/><circle cx="2385.34" cy="227.04" r="9.3"/><circle cx="2432.79" cy="270.28" r="9.3"/><circle cx="2490.95" cy="441.71" r="9.3"/><circle cx="2022.96" cy="524.75" r="9.3"/><circle cx="2084.95" cy="517.86" r="9.3"/></g>
<g class="d"><circle cx="2847.59" cy="522.84" r="9.3"/><circle cx="2033.67" cy="561.1" r="9.3"/><circle cx="2169.52" cy="567.61" r="9.3"/><circle cx="2591.21" cy="586.74" r="9.3"/><circle cx="2808.68" cy="805.51" r="9.3"/><circle cx="2239.67" cy="824.64" r="9.3"/><circle cx="2696.95" cy="850.28" r="9.3"/><circle cx="2453.96" cy="886.64" r="9.3"/></g>
<g class="d"><circle cx="2914.09" cy="152.93" r="9.3"/><circle cx="3025.06" cy="152.93" r="9.3"/><circle cx="3036.54" cy="324.81" r="9.3"/><circle cx="3002.42" cy="442.16" r="9.3"/><circle cx="3044.52" cy="467.35" r="9.3"/><circle cx="3015.82" cy="517.73" r="9.3"/><circle cx="3020.6" cy="516.14" r="9.3"/><circle cx="3031.76" cy="519.32" r="9.3"/></g>
<g class="d"><circle cx="3041.33" cy="523.15" r="9.3"/><circle cx="3022.19" cy="532.08" r="9.3"/><circle cx="3031.12" cy="533.04" r="9.3"/><circle cx="3007.84" cy="556.63" r="9.3"/><circle cx="3014.22" cy="559.18" r="9.3"/><circle cx="3011.03" cy="563.97" r="9.3"/><circle cx="3037.18" cy="566.2" r="9.3"/><circle cx="3182.27" cy="537.5" r="9.3"/></g>
<g class="d"><circle cx="3183.86" cy="543.88" r="9.3"/><circle cx="3107.65" cy="559.18" r="9.3"/><circle cx="3157.72" cy="566.2" r="9.3"/><circle cx="3119.45" cy="578.32" r="9.3"/><circle cx="3141.14" cy="578.32" r="9.3"/><circle cx="3307.27" cy="551.85" r="9.3"/><circle cx="3022.52" cy="598.57" r="9.3"/><circle cx="3019.42" cy="649.53" r="9.3"/></g>
<g class="d"><circle cx="3172.31" cy="773.84" r="9.3"/><circle cx="3191.6" cy="773.15" r="9.3"/><circle cx="3354.82" cy="807.93" r="9.3"/><circle cx="3026.53" cy="520.82" r="9.3"/><circle cx="3031.63" cy="523.37" r="9.3"/><circle cx="3029.08" cy="518.27" r="9.3"/><circle cx="3009.95" cy="559.08" r="9.3"/></g>
<g class="e"><circle cx="877.69" cy="344.39" r="9.3"/><circle cx="468.24" cy="409.06" r="9.3"/><circle cx="470.92" cy="487.5" r="9.3"/><circle cx="497.71" cy="496.69" r="9.3"/><circle cx="915.57" cy="482.91" r="9.3"/><circle cx="1004.73" cy="505.1" r="9.3"/><circle cx="374.11" cy="596.56" r="9.3"/><circle cx="1090.83" cy="605.36" r="9.3"/></g>
<g class="e"><circle cx="751.03" cy="808.55" r="9.3"/><circle cx="391.22" cy="797.4" r="9.3"/><circle cx="1731.77" cy="270.28" r="9.3"/><circle cx="1740.57" cy="300.9" r="9.3"/><circle cx="1785.72" cy="300.9" r="9.3"/><circle cx="1726.03" cy="325" r="9.3"/><circle cx="1316.58" cy="360.97" r="9.3"/><circle cx="1690.82" cy="387.38" r="9.3"/></g>
<g class="e"><circle cx="1357.53" cy="398.47" r="9.3"/><circle cx="1727.56" cy="409.19" r="9.3"/><circle cx="1348.73" cy="418.37" r="9.3"/><circle cx="1696.56" cy="417.61" r="9.3"/><circle cx="1785.34" cy="417.61" r="9.3"/><circle cx="1770.42" cy="426.02" r="9.3"/><circle cx="1536.61" cy="427.17" r="9.3"/><circle cx="1479.21" cy="434.83" r="9.3"/></g>
<g class="e"><circle cx="1669.78" cy="434.83" r="9.3"/><circle cx="1747.07" cy="441.71" r="9.3"/><circle cx="1779.22" cy="441.71" r="9.3"/><circle cx="1730.62" cy="461.23" r="9.3"/><circle cx="1209.82" cy="496.82" r="9.3"/><circle cx="1317.35" cy="501.03" r="9.3"/><circle cx="1606.26" cy="487.25" r="9.3"/><circle cx="1719.91" cy="483.81" r="9.3"/></g>
<g class="e"><circle cx="1742.1" cy="496.05" r="9.3"/><circle cx="1769.65" cy="491.46" r="9.3"/><circle cx="1725.65" cy="497.96" r="9.3"/><circle cx="1714.17" cy="504.47" r="9.3"/><circle cx="1725.65" cy="515.18" r="9.3"/><circle cx="1890.95" cy="529.34" r="9.3"/><circle cx="1660.59" cy="545.8" r="9.3"/><circle cx="1994.65" cy="540.82" r="9.3"/></g>
<g class="e"><circle cx="1355.62" cy="561.87" r="9.3"/><circle cx="1634.96" cy="561.1" r="9.3"/><circle cx="1208.67" cy="572.97" r="9.3"/><circle cx="1727.94" cy="576.41" r="9.3"/><circle cx="1742.87" cy="578.32" r="9.3"/><circle cx="1774.63" cy="576.41" r="9.3"/><circle cx="1871.06" cy="595.54" r="9.3"/><circle cx="1669.4" cy="601.28" r="9.3"/></g>
<g class="e"><circle cx="1776.54" cy="601.28" r="9.3"/><circle cx="1721.82" cy="616.59" r="9.3"/><circle cx="1739.04" cy="617.35" r="9.3"/><circle cx="1521.69" cy="615.06" r="9.3"/><circle cx="1446.31" cy="623.09" r="9.3"/><circle cx="1740.95" cy="563.02" r="9.3"/><circle cx="1715.31" cy="646.44" r="9.3"/><circle cx="1543.87" cy="667.83" r="9.3"/></g>
<g class="e"><circle cx="1549.61" cy="699.4" r="9.3"/><circle cx="1440.56" cy="752.01" r="9.3"/><circle cx="1393.68" cy="809.99" r="9.3"/><circle cx="1534.69" cy="853.42" r="9.3"/><circle cx="1797.45" cy="685.05" r="9.3"/><circle cx="1808.93" cy="682.5" r="9.3"/><circle cx="1789.8" cy="691.43" r="9.3"/><circle cx="1792.35" cy="699.72" r="9.3"/></g>
<g class="e"><circle cx="1793.88" cy="757.12" r="9.3"/><circle cx="1844.64" cy="790.28" r="9.3"/><circle cx="1805.1" cy="645.51" r="9.3"/><circle cx="1610.2" cy="752.4" r="9.3"/><circle cx="1643.11" cy="746.66" r="9.3"/><circle cx="1669.9" cy="774.97" r="9.3"/><circle cx="1921.43" cy="674.85" r="9.3"/><circle cx="1874.87" cy="673.57" r="9.3"/></g>
<g class="e"><circle cx="1870.41" cy="681.22" r="9.3"/><circle cx="1894.01" cy="713.75" r="9.3"/><circle cx="1892.73" cy="736.71" r="9.3"/><circle cx="1966.71" cy="741.17" r="9.3"/><circle cx="1996.68" cy="674.21" r="9.3"/><circle cx="2008.16" cy="669.11" r="9.3"/><circle cx="1994.13" cy="794.74" r="9.3"/><circle cx="1962.24" cy="807.5" r="9.3"/></g>
<g class="e"><circle cx="2029.85" cy="636.58" r="9.3"/><circle cx="2028.57" cy="656.99" r="9.3"/><circle cx="2033.67" cy="660.82" r="9.3"/><circle cx="2101.28" cy="625.1" r="9.3"/><circle cx="2041.96" cy="736.45" r="9.3"/><circle cx="1838.27" cy="891.84" r="9.3"/><circle cx="1848.47" cy="903.32" r="9.3"/><circle cx="1954.59" cy="840.82" r="9.3"/></g>
<g class="e"><circle cx="1985.2" cy="856.12" r="9.3"/><circle cx="1992.86" cy="882.91" r="9.3"/><circle cx="2019.64" cy="877.17" r="9.3"/><circle cx="2066.2" cy="325" r="9.3"/><circle cx="2031.38" cy="344.14" r="9.3"/><circle cx="2068.88" cy="344.14" r="9.3"/><circle cx="2031.38" cy="374.75" r="9.3"/><circle cx="2078.44" cy="417.61" r="9.3"/></g>
<g class="e"><circle cx="2070.79" cy="427.17" r="9.3"/><circle cx="2081.12" cy="427.17" r="9.3"/><circle cx="2098.73" cy="441.71" r="9.3"/><circle cx="2572.07" cy="455.87" r="9.3"/><circle cx="2472.58" cy="487.63" r="9.3"/><circle cx="2457.28" cy="522.84" r="9.3"/><circle cx="2683.43" cy="566.08" r="9.3"/><circle cx="2828.45" cy="582.15" r="9.3"/></g>
<g class="e"><circle cx="2095.66" cy="607.79" r="9.3"/><circle cx="2019.9" cy="607.02" r="9.3"/><circle cx="2016.07" cy="616.59" r="9.3"/><circle cx="2149.24" cy="620.41" r="9.3"/><circle cx="2188.27" cy="662.51" r="9.3"/><circle cx="2698.35" cy="692.35" r="9.3"/><circle cx="2589.8" cy="740.46" r="9.3"/><circle cx="2401.15" cy="819.67" r="9.3"/></g>
<g class="e"><circle cx="2682.02" cy="810.87" r="9.3"/><circle cx="2473.09" cy="845.69" r="9.3"/></g>
<g class="a"><circle cx="1807.92" cy="622.33" r="9.3"/><circle cx="1812.51" cy="628.83" r="9.3"/><circle cx="1812.12" cy="693.98" r="9.3"/><circle cx="1816.58" cy="696.53" r="9.3"/><circle cx="1816.58" cy="639.13" r="9.3"/><circle cx="1819.13" cy="635.31" r="9.3"/><circle cx="1871.68" cy="687.6" r="9.3"/><circle cx="1892.09" cy="711.84" r="9.3"/></g>
<g class="a"><circle cx="1968.62" cy="842.09" r="9.3"/></g>
<g class="b"><circle cx="380.38" cy="806.33" r="9.3"/><circle cx="379.43" cy="803.78" r="9.3"/><circle cx="383.57" cy="820.99" r="9.3"/><circle cx="1661.36" cy="573.35" r="9.3"/><circle cx="1756.26" cy="593.63" r="9.3"/><circle cx="1740.95" cy="593.63" r="9.3"/><circle cx="1723.73" cy="639.55" r="9.3"/><circle cx="1708.16" cy="665.92" r="9.3"/></g>
<g class="b"><circle cx="1803.83" cy="702.91" r="9.3"/><circle cx="1803.83" cy="764.13" r="9.3"/><circle cx="1926.53" cy="671.02" r="9.3"/><circle cx="1874.87" cy="671.66" r="9.3"/><circle cx="1886.99" cy="741.17" r="9.3"/><circle cx="1970.54" cy="736.71" r="9.3"/><circle cx="1954.59" cy="812.6" r="9.3"/><circle cx="2019.64" cy="632.76" r="9.3"/></g>
<g class="b"><circle cx="2048.98" cy="644.23" r="9.3"/><circle cx="2028.57" cy="668.47" r="9.3"/><circle cx="1839.54" cy="889.29" r="9.3"/><circle cx="1845.92" cy="881.63" r="9.3"/><circle cx="1892.09" cy="857.4" r="9.3"/><circle cx="1952.04" cy="825.51" r="9.3"/><circle cx="1955.87" cy="842.09" r="9.3"/><circle cx="2462.25" cy="492.22" r="9.3"/></g>
<g class="b"><circle cx="2479.47" cy="511.36" r="9.3"/><circle cx="2025.26" cy="523.98" r="9.3"/><circle cx="2402.3" cy="814.7" r="9.3"/></g>
<g class="c"><circle cx="383.68" cy="593.5" r="9.3"/><circle cx="1097.33" cy="607.27" r="9.3"/><circle cx="1714.55" cy="482.66" r="9.3"/><circle cx="1716.08" cy="488.4" r="9.3"/><circle cx="1659.83" cy="553.45" r="9.3"/><circle cx="1738.27" cy="545.8" r="9.3"/><circle cx="1744.01" cy="547.71" r="9.3"/><circle cx="1744.01" cy="559.19" r="9.3"/></g>
<g class="c"><circle cx="1406.12" cy="819.55" r="9.3"/><circle cx="1516.13" cy="934.44" r="9.3"/><circle cx="1675" cy="779.44" r="9.3"/><circle cx="1675.64" cy="793.47" r="9.3"/><circle cx="1672.45" cy="815.15" r="9.3"/><circle cx="1990.31" cy="798.57" r="9.3"/><circle cx="2036.22" cy="783.27" r="9.3"/><circle cx="1945.03" cy="899.49" r="9.3"/></g>
<g class="c"><circle cx="1987.12" cy="879.72" r="9.3"/><circle cx="2033.67" cy="872.7" r="9.3"/><circle cx="2037.5" cy="879.08" r="9.3"/><circle cx="2584.7" cy="455.87" r="9.3"/><circle cx="2099.49" cy="511.36" r="9.3"/><circle cx="2091.84" cy="519.01" r="9.3"/><circle cx="2082.27" cy="520.92" r="9.3"/><circle cx="2588.15" cy="581.38" r="9.3"/></g>
<g class="c"><circle cx="2602.69" cy="584.44" r="9.3"/><circle cx="2095.66" cy="605.11" r="9.3"/><circle cx="2594.78" cy="741.23" r="9.3"/><circle cx="2698.86" cy="851.43" r="9.3"/></g>
<g class="d"><circle cx="3403.03" cy="798.29" r="9.3"/></g>
<path class="g" d="M558.3 109.44V1085.36"/>
<path class="g" d="M1188.8 109.44V1085.36"/>
<path class="g" d="M1819.3 109.44V1085.36"/>
<path class="g" d="M2449.8 109.44V1085.36"/>
<path class="g" d="M3080.3 109.44V1085.36"/>
<path class="g" d="M220.45 153.5H3555.5"/>
<path class="g" d="M220.45 399.5H3555.5"/>
<path class="g" d="M220.45 645.5H3555.5"/>
<path class="g" d="M220.45 890.5H3555.5"/>
<path class="v" stroke="pink" d="M490.96 1085.36V109.44"/>
<path class="v" stroke="violet" d="M710 1085.36V109.44"/>
<path class="v" stroke="brown" d="M1430.16 1085.36V109.44"/>
<path class="v" stroke="blue" d="M1781.72 1085.36V109.44"/>
<path class="v" stroke="skyblue" d="M1904.8 1085.36V109.44"/>
<path class="v" stroke="orange" d="M2018.03 1085.36V109.44"/>
<path class="v" stroke="red" d="M2230.01 1085.36V109.44"/>
<path class="v" stroke="green" d="M2826.21 1085.36V109.44"/>
<path class="v" stroke="gray" d="M3132.38 1085.36V109.44"/>
</g>
<path class="k" d="M558.3 1085.36v14.6M1188.8 1085.36v14.6M1819.3 1085.36v14.6M2449.8 1085.36v14.6M3080.3 1085.36v14.6M220.45 153.5h-14.6M220.45 399.5h-14.6M220.45 645.5h-14.6M220.45 890.5h-14.6"/>
<path class="m" d="M220.45 115.49h-8.33M220.45 129.73h-8.33M220.45 142.3h-8.33M220.45 227.49h-8.33M220.45 270.75h-8.33M220.45 301.44h-8.33M220.45 325.25h-8.33M220.45 344.7h-8.33M220.45 361.15h-8.33M220.45 375.39h-8.33M220.45 387.96h-8.33M220.45 473.15h-8.33M220.45 516.41h-8.33M220.45 547.1h-8.33M220.45 570.91h-8.33M220.45 590.36h-8.33M220.45 606.81h-8.33M220.45 621.05h-8.33M220.45 633.62h-8.33M220.45 718.81h-8.33M220.45 762.07h-8.33M220.45 792.76h-8.33M220.45 816.57h-8.33M220.45 836.02h-8.33M220.45 852.47h-8.33M220.45 866.71h-8.33M220.45 879.28h-8.33M220.45 964.47h-8.33M220.45 1007.73h-8.33M220.45 1038.42h-8.33M220.45 1062.23h-8.33M220.45 1081.68h-8.33"/>
<rect class="k" x="220.45" y="109.44" width="3335.05" height="975.92"/>
<text class="t" x="558.3" y="1145.5" text-anchor="middle" textLength="50.6" lengthAdjust="spacingAndGlyphs">25</text>
<text class="t" x="1188.8" y="1145.5" text-anchor="middle" textLength="50.6" lengthAdjust="spacingAndGlyphs">30</text>
<text class="t" x="1819.3" y="1145.5" text-anchor="middle" textLength="50.6" lengthAdjust="spacingAndGlyphs">35</text>
<text class="t" x="2449.8" y="1145.5" text-anchor="middle" textLength="50.6" lengthAdjust="spacingAndGlyphs">40</text>
<text class="t" x="3080.3" y="1145.5" text-anchor="middle" textLength="50.6" lengthAdjust="spacingAndGlyphs">45</text>
<text class="s" x="191.5" y="155" text-anchor="end" textLength="33.3" lengthAdjust="spacingAndGlyphs">−1</text>
<text class="t" x="157.2" y="169.2" text-anchor="end" textLength="52" lengthAdjust="spacingAndGlyphs">10</text>
<text class="s" x="191.5" y="401" text-anchor="end" textLength="18.2" lengthAdjust="spacingAndGlyphs">0</text>
<text class="t" x="172.3" y="415.2" text-anchor="end" textLength="52" lengthAdjust="spacingAndGlyphs">10</text>
<text class="s" x="191.5" y="647" text-anchor="end" textLength="18.2" lengthAdjust="spacingAndGlyphs">1</text>
<text class="t" x="172.3" y="661.2" text-anchor="end" textLength="52" lengthAdjust="spacingAndGlyphs">10</text>
<text class="s" x="191.5" y="892" text-anchor="end" textLength="18.2" lengthAdjust="spacingAndGlyphs">2</text>
<text class="t" x="172.3" y="906.2" text-anchor="end" textLength="52" lengthAdjust="spacingAndGlyphs">10</text>
<text class="j" x="1887.5" y="1202.5" text-anchor="middle">緯度</text>
<text class="j" transform="translate(82 601) rotate(-90)" text-anchor="middle">深さ</text>
<text y="83" style="font-size:50px"><tspan x="1185" textLength="288" lengthAdjust="spacingAndGlyphs">1992-03-01</tspan><tspan> </tspan><tspan x="1488.5">から</tspan><tspan> </tspan><tspan x="1597" textLength="288" lengthAdjust="spacingAndGlyphs">1992-03-31</tspan><tspan x="1888">の全国地震の緯度と深さの関係</tspan></text>
<rect x="3163.5" y="130.5" width="370.5" height="315.5" rx="8.3" fill="#fff" fill-opacity="0.8" stroke="#ccc" stroke-opacity="0.8" stroke-width="4.17"/>
<rect x="3181" y="149" width="83.3" height="29.2" fill="#e597b2" stroke="#e597b2" stroke-width="4.17"/>
<text class="t" x="3298" y="177" textLength="110.5" lengthAdjust="spacingAndGlyphs">M &lt; 1</text>
<rect x="3181" y="210" width="83.3" height="29.2" fill="#7b8e42" stroke="#7b8e42" stroke-width="4.17"/>
<text class="t" x="3298" y="238" textLength="220" lengthAdjust="spacingAndGlyphs">1 &lt;= M &lt; 2</text>
<rect x="3181" y="271" width="83.3" height="29.2" fill="#6f58a3" stroke="#6f58a3" stroke-width="4.17"/>
<text class="t" x="3298" y="299" textLength="220" lengthAdjust="spacingAndGlyphs">2 &lt;= M &lt; 4</text>
<rect x="3181" y="332" width="83.3" height="29.2" fill="#b44e9a" stroke="#b44e9a" stroke-width="4.17"/>
<text class="t" x="3298" y="360" textLength="220" lengthAdjust="spacingAndGlyphs">4 &lt;= M &lt; 6</text>
<rect x="3181" y="393" width="83.3" height="29.2" fill="#a51e42" stroke="#a51e42" stroke-width="4.17"/>
<text class="t" x="3298" y="421" textLength="142.5" lengthAdjust="spacingAndGlyphs">M &gt;= 6</text>
<clipPath id="cb"><rect x="220.45" y="1254.2" width="3335.05" height="976.36"/></clipPath>
<g clip-path="url(#cb)">
<rect class="bar" x="370.94" y="1829.01" width="61.88" height="401.55"/>
<rect class="bar" x="432.82" y="2093.19" width="61.88" height="137.37"/>
<rect class="bar" x="494.7" y="2188.29" width="61.88" height="42.27"/>
<rect class="bar" x="556.58" y="2219.99" width="61.88" height="10.57"/>
<rect class="bar" x="618.46" y="2209.43" width="61.88" height="21.13"/>
<rect class="bar" x="680.34" y="2209.43" width="61.88" height="21.13"/>
<rect class="bar" x="742.22" y="2209.43" width="61.88" height="21.13"/>
<rect class="bar" x="804.1" y="2188.29" width="61.88" height="42.27"/>
<rect class="bar" x="865.98" y="2177.72" width="61.88" height="52.84"/>
<rect class="bar" x="927.86" y="2219.99" width="61.88" height="10.57"/>
<rect class="bar" x="989.74" y="2156.59" width="61.88" height="73.97"/>
<rect class="bar" x="1051.62" y="2156.59" width="61.88" height="73.97"/>
<rect class="bar" x="1113.5" y="2209.43" width="61.88" height="21.13"/>
<rect class="bar" x="1175.38" y="2156.59" width="61.88" height="73.97"/>
<rect class="bar" x="1237.26" y="2103.76" width="61.88" height="126.8"/>
<rect class="bar" x="1299.14" y="2072.05" width="61.88" height="158.5"/>
<rect class="bar" x="1361.02" y="2050.92" width="61.88" height="179.64"/>
<rect class="bar" x="1422.9" y="2124.89" width="61.88" height="105.67"/>
<rect class="bar" x="1484.78" y="1976.95" width="61.88" height="253.61"/>
<rect class="bar" x="1546.66" y="2019.22" width="61.88" height="211.34"/>
<rect class="bar" x="1608.54" y="1818.45" width="61.88" height="412.11"/>
<rect class="bar" x="1670.42" y="1300.66" width="61.88" height="929.9"/>
<rect class="bar" x="1732.3" y="1374.63" width="61.88" height="855.93"/>
<rect class="bar" x="1794.18" y="1353.5" width="61.88" height="877.06"/>
<rect class="bar" x="1856.06" y="1332.36" width="61.88" height="898.2"/>
<rect class="bar" x="1917.94" y="1342.93" width="61.88" height="887.63"/>
<rect class="bar" x="1979.82" y="1501.44" width="61.88" height="729.12"/>
<rect class="bar" x="2041.7" y="1670.51" width="61.88" height="560.05"/>
<rect class="bar" x="2103.58" y="1924.12" width="61.88" height="306.44"/>
<rect class="bar" x="2165.46" y="1998.09" width="61.88" height="232.47"/>
<rect class="bar" x="2227.34" y="1934.68" width="61.88" height="295.88"/>
<rect class="bar" x="2289.22" y="1955.82" width="61.88" height="274.74"/>
<rect class="bar" x="2351.1" y="1744.48" width="61.88" height="486.08"/>
<rect class="bar" x="2412.98" y="1881.85" width="61.88" height="348.71"/>
<rect class="bar" x="2474.86" y="1976.95" width="61.88" height="253.61"/>
<rect class="bar" x="2536.74" y="1966.38" width="61.88" height="264.18"/>
<rect class="bar" x="2598.62" y="2040.35" width="61.88" height="190.21"/>
<rect class="bar" x="2660.5" y="2061.49" width="61.88" height="169.07"/>
<rect class="bar" x="2722.38" y="1913.55" width="61.88" height="317.01"/>
<rect class="bar" x="2784.26" y="2040.35" width="61.88" height="190.21"/>
<rect class="bar" x="2846.14" y="2146.02" width="61.88" height="84.54"/>
<rect class="bar" x="2908.02" y="2019.22" width="61.88" height="211.34"/>
<rect class="bar" x="2969.9" y="2008.65" width="61.88" height="221.91"/>
<rect class="bar" x="3031.78" y="2177.72" width="61.88" height="52.84"/>
<rect class="bar" x="3093.66" y="2167.16" width="61.88" height="63.4"/>
<rect class="bar" x="3217.42" y="2219.99" width="61.88" height="10.57"/>
<rect class="bar" x="3279.3" y="2209.43" width="61.88" height="21.13"/>
<rect class="bar" x="3341.18" y="2209.43" width="61.88" height="21.13"/>
<path class="h" d="M554.9 2230.56V1254.2"/>
<path class="h" d="M1173.8 2230.56V1254.2"/>
<path class="h" d="M1792.7 2230.56V1254.2"/>
<path class="h" d="M2411.6 2230.56V1254.2"/>
<path class="h" d="M3030.5 2230.56V1254.2"/>
<path class="h" d="M220.45 2019.22H3555.5"/>
<path class="h" d="M220.45 1807.88H3555.5"/>
<path class="h" d="M220.45 1596.54H3555.5"/>
<path class="h" d="M220.45 1385.2H3555.5"/>
<path class="v" stroke="pink" d="M488.8 2230.56V1254.2"/>
<path class="v" stroke="violet" d="M703.81 2230.56V1254.2"/>
<path class="v" stroke="brown" d="M1410.71 2230.56V1254.2"/>
<path class="v" stroke="blue" d="M1755.81 2230.56V1254.2"/>
<path class="v" stroke="skyblue" d="M1876.62 2230.56V1254.2"/>
<path class="v" stroke="orange" d="M1987.78 2230.56V1254.2"/>
<path class="v" stroke="red" d="M2195.85 2230.56V1254.2"/>
<path class="v" stroke="green" d="M2781.08 2230.56V1254.2"/>
<path class="v" stroke="gray" d="M3081.62 2230.56V1254.2"/>
</g>
<path class="k" d="M554.9 2230.56v14.6M1173.8 2230.56v14.6M1792.7 2230.56v14.6M2411.6 2230.56v14.6M3030.5 2230.56v14.6M220.45 2230.56h-14.6M220.45 2019.22h-14.6M220.45 1807.88h-14.6M220.45 1596.54h-14.6M220.45 1385.2h-14.6"/>
<rect class="k" x="220.45" y="1254.2" width="3335.05" height="976.36"/>
<text class="t" x="554.9" y="2289.8" text-anchor="middle" textLength="50.6" lengthAdjust="spacingAndGlyphs">25</text>
<text class="t" x="1173.8" y="2289.8" text-anchor="middle" textLength="50.6" lengthAdjust="spacingAndGlyphs">30</text>
<text class="t" x="1792.7" y="2289.8" text-anchor="middle" textLength="50.6" lengthAdjust="spacingAndGlyphs">35</text>
<text class="t" x="2411.6" y="2289.8" text-anchor="middle" textLength="50.6" lengthAdjust="spacingAndGlyphs">40</text>
<text class="t" x="3030.5" y="2289.8" text-anchor="middle" textLength="50.6" lengthAdjust="spacingAndGlyphs">45</text>
<text class="t" x="190.5" y="2245.86" text-anchor="end" textLength="26.2" lengthAdjust="spacingAndGlyphs">0</text>
<text class="t" x="190.5" y="2034.52" text-anchor="end" textLength="52.4" lengthAdjust="spacingAndGlyphs">20</text>
<text class="t" x="190.5" y="1823.18" text-anchor="end" textLength="52.4" lengthAdjust="spacingAndGlyphs">40</text>
<text class="t" x="190.5" y="1611.84" text-anchor="end" textLength="52.4" lengthAdjust="spacingAndGlyphs">60</text>
<text class="t" x="190.5" y="1400.5" text-anchor="end" textLength="52.4" lengthAdjust="spacingAndGlyphs">80</text>
<text class="j" x="1887.5" y="2347.5" text-anchor="middle">緯度</text>
<text class="j" transform="translate(115 1746) rotate(-90)" text-anchor="middle">頻度</text>
</svg></body></html>
